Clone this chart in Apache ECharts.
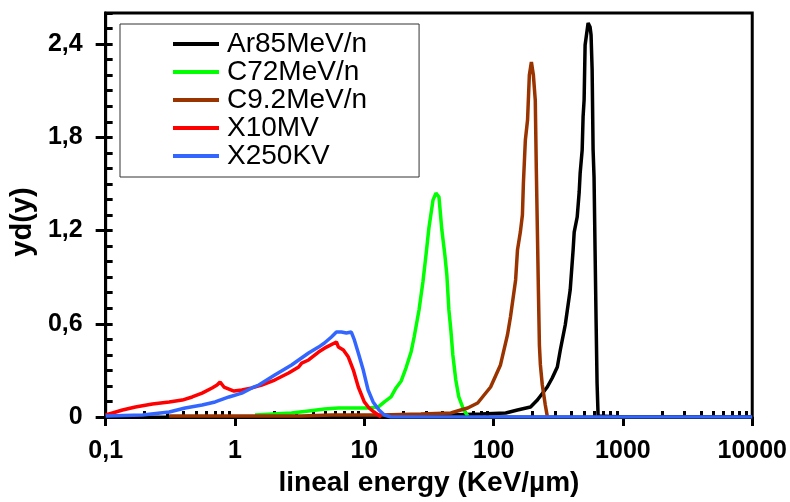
<!DOCTYPE html>
<html>
<head>
<meta charset="utf-8">
<script src="https://cdn.jsdelivr.net/npm/echarts@6/dist/echarts.min.js"></script>
<style>
html,body{margin:0;padding:0;background:#fff;}
#chart{width:790px;height:502px;}
</style>
</head>
<body>
<div id="chart"></div>
<script>
// ---- data ----
var seriesNames = ['Ar85MeV/n', 'C72MeV/n', 'C9.2MeV/n', 'X10MV', 'X250KV'];
var seriesColors = ['#000000', '#00ff00', '#993300', '#ff0000', '#3366ff'];

var arX = [19.3, 46.7, 79.4, 124, 153, 193, 218, 260, 284, 311, 328, 358, 391, 412, 420, 443, 459, 467, 484, 492, 501, 510, 538, 557, 567, 578, 588, 598, 609, 620, 631, 643, 1000, 10000];
var arY = [0.013, 0.013, 0.019, 0.026, 0.045, 0.064, 0.109, 0.193, 0.251, 0.322, 0.431, 0.592, 0.817, 1.075, 1.190, 1.287, 1.448, 1.570, 1.718, 1.931, 2.040, 2.394, 2.535, 2.510, 2.458, 2.233, 1.718, 1.544, 1.075, 0.624, 0.219, 0.006, 0, 0];

var c72X = [1.43, 2.74, 3.71, 4.92, 6.31, 10.7, 12.8, 14.3, 16.1, 17.6, 19.3, 21.0, 23.0, 24.3, 26.5, 28.4, 30.0, 31.6, 34.0, 35.8, 37.8, 39.8, 42.0, 43.5, 45.1, 46.7, 48.4, 51.0, 53.8, 58.8, 63.1];
var c72Y = [0.013, 0.026, 0.039, 0.051, 0.058, 0.058, 0.064, 0.097, 0.129, 0.187, 0.232, 0.315, 0.418, 0.515, 0.689, 0.869, 1.042, 1.216, 1.396, 1.441, 1.416, 1.203, 1.042, 0.914, 0.689, 0.560, 0.399, 0.238, 0.129, 0.045, 0.006];

var c92X = [0.31, 1.35, 3.28, 5.57, 13.5, 27.4, 46.7, 55.7, 63.1, 75.3, 94.8, 113, 128, 135, 148, 153, 161, 167, 170, 176, 183, 189, 196, 203, 210, 214, 218, 222, 226, 230, 238, 251, 260];
var c92Y = [0.006, 0.006, 0.006, 0.013, 0.013, 0.019, 0.026, 0.045, 0.058, 0.090, 0.193, 0.335, 0.528, 0.644, 0.882, 1.075, 1.190, 1.300, 1.506, 1.782, 1.911, 2.201, 2.284, 2.201, 2.040, 1.589, 1.203, 0.817, 0.463, 0.335, 0.206, 0.077, 0.006];

var x10X = [0.1, 0.113, 0.135, 0.170, 0.230, 0.310, 0.391, 0.467, 0.557, 0.665, 0.727, 0.767, 0.822, 0.982, 1.13, 1.35, 1.61, 2.03, 2.60, 3.11, 3.28, 3.71, 4.43, 5.10, 6.09, 6.31, 6.89, 7.53, 8.23, 8.99, 10.0, 10.9, 11.9, 13.5];
var x10Y = [0.013, 0.026, 0.045, 0.064, 0.084, 0.097, 0.109, 0.129, 0.154, 0.187, 0.206, 0.225, 0.193, 0.167, 0.174, 0.187, 0.206, 0.238, 0.283, 0.322, 0.347, 0.367, 0.418, 0.450, 0.483, 0.450, 0.431, 0.386, 0.302, 0.193, 0.097, 0.058, 0.032, 0];

var x250X = [0.1, 0.193, 0.310, 0.412, 0.557, 0.702, 0.899, 1.13, 1.35, 1.53, 2.03, 2.74, 3.71, 4.43, 4.92, 5.57, 6.09, 6.65, 7.27, 7.94, 8.38, 8.99, 9.82, 10.7, 11.7, 13.0, 14.3, 16.1, 100, 1000, 10000];
var x250Y = [0.006, 0.013, 0.032, 0.058, 0.077, 0.097, 0.129, 0.154, 0.187, 0.206, 0.270, 0.335, 0.412, 0.450, 0.476, 0.515, 0.547, 0.547, 0.541, 0.547, 0.496, 0.412, 0.302, 0.174, 0.097, 0.045, 0.013, 0, 0, 0, 0];

var xTicks = [0.1, 1, 10, 100, 1000, 10000];
var xTickLabels = ['0,1', '1', '10', '100', '1000', '10000'];
var yTicks = [0, 0.6, 1.2, 1.8, 2.4];
var yTickLabels = ['0', '0,6', '1,2', '1,8', '2,4'];

// ---- build ----
var FONT = 'Liberation Sans, Arial, sans-serif';
function zip(xs, ys) { return xs.map(function (x, i) { return [x, ys[i]]; }); }
var allX = [arX, c72X, c92X, x10X, x250X];
var allY = [arY, c72Y, c92Y, x10Y, x250Y];

var xMinor = [];
for (var d = 0.1; d < 10000; d *= 10) {
  for (var k = 2; k <= 9; k++) xMinor.push(+(k * d).toPrecision(3));
}
var yMinor = [];
for (var j = 0; j <= 26; j++) yMinor.push(+(j * 0.1).toFixed(1));

var series = seriesNames.map(function (n, i) {
  return {
    name: n, type: 'line', showSymbol: false, symbol: 'none',
    data: zip(allX[i], allY[i]),
    lineStyle: { color: seriesColors[i], width: 3.5 },
    itemStyle: { color: seriesColors[i] },
    z: 3 + i,
    animation: false
  };
});

var chart = echarts.init(document.getElementById('chart'), null, { renderer: 'canvas' });
chart.setOption({
  animation: false,
  backgroundColor: '#fff',
  grid: { left: 103, right: 37, top: 13, bottom: 85, show: true, borderColor: '#000', borderWidth: 3, backgroundColor: 'transparent' },
  legend: {
    orient: 'vertical', left: 120, top: 24,
    padding: [6, 52, 7, 53], itemGap: 0,
    itemWidth: 46, itemHeight: 4, icon: 'rect',
    borderColor: '#333', borderWidth: 1, backgroundColor: '#fff',
    textStyle: { fontSize: 28, fontFamily: FONT, color: '#000', lineHeight: 28, padding: [0, 0, 0, 3] },
    data: seriesNames
  },
  xAxis: [{
    type: 'log', logBase: 10, min: 0.1, max: 10000,
    axisLine: { lineStyle: { color: '#000', width: 3 } },
    axisTick: { inside: false, length: 9, lineStyle: { color: '#000', width: 3 }, customValues: xTicks },
    axisLabel: {
      customValues: xTicks, margin: 22,
      fontSize: 25, fontWeight: 'bold', fontFamily: FONT, color: '#000',
      formatter: function (v) { var i = xTicks.indexOf(v); return i >= 0 ? xTickLabels[i] : ''; }
    },
    splitLine: { show: false },
    name: 'lineal energy (KeV/µm)', nameLocation: 'middle', nameGap: 51,
    nameTextStyle: { fontSize: 28, fontWeight: 'bold', fontFamily: FONT, color: '#000' }
  }, {
    type: 'log', logBase: 10, min: 0.1, max: 10000, position: 'bottom',
    axisLine: { show: false },
    axisTick: { inside: true, length: 6, lineStyle: { color: '#000', width: 3 }, customValues: xMinor },
    axisLabel: { show: false },
    splitLine: { show: false }
  }],
  yAxis: [{
    type: 'value', min: 0, max: 2.6,
    axisLine: { show: true, lineStyle: { color: '#000', width: 3 } },
    axisTick: { show: true, inside: false, length: 10, lineStyle: { color: '#000', width: 3 }, customValues: yTicks },
    axisLabel: {
      customValues: yTicks, margin: 23,
      fontSize: 25, fontWeight: 'bold', fontFamily: FONT, color: '#000',
      formatter: function (v) { var i = yTicks.indexOf(v); return i >= 0 ? yTickLabels[i] : ''; }
    },
    splitLine: { show: false },
    name: 'yd(y)', nameLocation: 'middle', nameGap: 62, nameRotate: 90,
    nameTextStyle: { fontSize: 29, fontWeight: 'bold', fontFamily: FONT, color: '#000', padding: [0, 14, 0, 0] }
  }, {
    type: 'value', min: 0, max: 2.6, position: 'left',
    axisLine: { show: false },
    axisTick: { show: true, inside: true, length: 7, lineStyle: { color: '#000', width: 3 }, customValues: yMinor },
    axisLabel: { show: false },
    splitLine: { show: false }
  }],
  series: series
});
</script>
</body>
</html>
